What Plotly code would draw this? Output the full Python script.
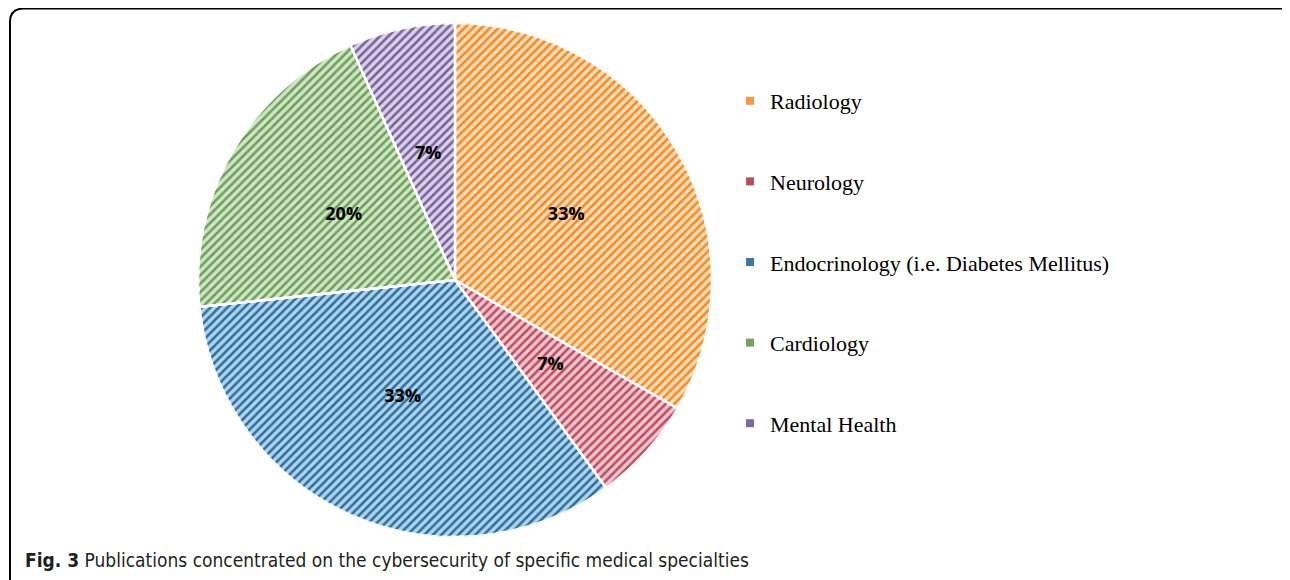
import numpy as np
import plotly.graph_objects as go

# ---- data ----
categories = ["Radiology", "Neurology", "Endocrinology (i.e. Diabetes Mellitus)", "Cardiology", "Mental Health"]
counts = [5, 1, 5, 3, 1]
pct_labels = ["33%", "7%", "33%", "20%", "7%"]
caption_bold = "Fig. 3"
caption_text = "Publications concentrated on the cybersecurity of specific medical specialties"

# ---- styles ----
fg_colors = ["#F28A26", "#BE4B5E", "#2F6E9C", "#6E9F5A", "#76639A"]
bg_colors = ["#FDDDB8", "#F1C6CF", "#AED5EE", "#D0E7C6", "#DCD3E8"]
legend_colors = ["#F39A3C", "#B84D5C", "#3A76A2", "#76A462", "#7D68A0"]

OFF = 8  # page body margin
W, H = 1290 - OFF, 580 - OFF
cx, cy, R = 455 - OFF, 280 - OFF, 257
dom_x = [(cx - R) / W, (cx + R) / W]
dom_y = [1 - (cy + R) / H, 1 - (cy - R) / H]

vals = np.array(counts, dtype=float)
share_deg = vals / vals.sum() * 360
mid_deg = np.cumsum(share_deg) - share_deg / 2

fig = go.Figure()

# pie slices as polar wedges: light fill underneath ...
fig.add_trace(go.Barpolar(
    r=[1] * len(categories),
    theta=mid_deg,
    width=share_deg,
    customdata=categories,
    hovertemplate="%{customdata}<extra></extra>",
    showlegend=False,
    marker=dict(color=bg_colors, line=dict(color="white", width=2.5)),
))
# ... and diagonal hatching on top
fig.add_trace(go.Barpolar(
    r=[1] * len(categories),
    theta=mid_deg,
    width=share_deg,
    customdata=categories,
    hovertemplate="%{customdata}<extra></extra>",
    showlegend=False,
    marker=dict(
        color=fg_colors,
        line=dict(color="white", width=2.5),
        pattern=dict(shape="/", size=6, solidity=0.42, fillmode="replace"),
    ),
))

# percentage labels
fig.add_trace(go.Scatterpolar(
    r=[0.5] * len(categories),
    theta=mid_deg,
    mode="text",
    text=pct_labels,
    textfont=dict(family="Open Sans", size=18, color="black", weight="bold"),
    showlegend=False,
    hoverinfo="skip",
))

# legend entries
for name, col in zip(categories, legend_colors):
    fig.add_trace(go.Scatter(
        x=[None], y=[None], mode="markers", name=name, legendgroup=name,
        marker=dict(symbol="square", size=8, color=col),
    ))

# frame path (paper coords)
def px(x): return (x - OFF) / W
def py(y): return 1 - (y - OFF) / H
frame = (f"M {px(10)},{py(582)} L {px(10)},{py(22)} "
         f"Q {px(10)},{py(8.5)} {px(24)},{py(8.5)} "
         f"L {px(1286)},{py(8.5)} Q {px(1289)},{py(8.5)} {px(1289)},{py(11)}")

fig.update_layout(
    width=W, height=H,
    margin=dict(l=0, r=0, t=0, b=0),
    paper_bgcolor="white",
    plot_bgcolor="white",
    xaxis=dict(visible=False),
    yaxis=dict(visible=False),
    polar=dict(
        domain=dict(x=dom_x, y=dom_y),
        bgcolor="rgba(0,0,0,0)",
        bargap=0,
        barmode="overlay",
        angularaxis=dict(rotation=90, direction="clockwise", visible=False),
        radialaxis=dict(range=[0, 1], visible=False),
    ),
    legend=dict(
        x=(730 - OFF) / W, y=1 - (80 - OFF) / H, xanchor="left", yanchor="top",
        font=dict(family="Liberation Serif", size=22, color="black"),
        tracegroupgap=49,
        bgcolor="rgba(0,0,0,0)",
        itemclick=False,
    ),
    shapes=[dict(type="path", path=frame, xref="paper", yref="paper",
                 line=dict(color="black", width=2))],
    annotations=[dict(
        x=px(23), y=py(560), xref="paper", yref="paper",
        xanchor="left", yanchor="middle", showarrow=False,
        text=f"<b>{caption_bold}</b> {caption_text}",
        font=dict(family="DejaVu Sans Condensed, Lato, sans-serif", size=19, color="#231F20"),
    )],
)

fig.write_html("out.html")
